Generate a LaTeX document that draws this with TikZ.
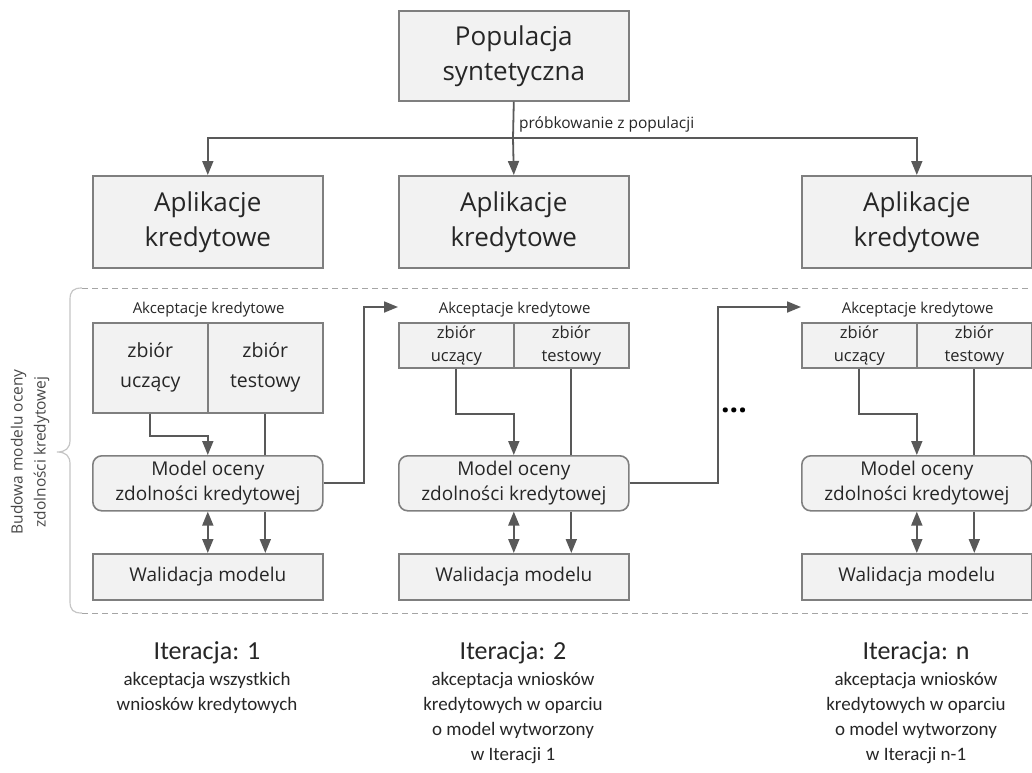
\documentclass[tikz,border=0pt]{standalone}
\usepackage{fontspec}
\setmainfont{Open Sans}
\newfontfamily\calfont{Carlito}
\usetikzlibrary{arrows.meta,positioning,calc}
\definecolor{boxfill}{HTML}{F2F2F2}
\definecolor{boxline}{HTML}{7F7F7F}
\definecolor{arrline}{HTML}{595959}
\definecolor{txt}{HTML}{262626}
\newcommand{\fs}[2]{\fontsize{#1}{#2}\selectfont}

\tikzset{
  box/.style={draw=boxline,fill=boxfill,line width=1.6pt,text=txt,align=center,
    inner sep=0pt,anchor=north west,minimum width=#1},
  box/.default=230pt,
  conn/.style={draw=arrline,line width=1.8pt},
  arr/.style={conn,-{Triangle[length=14pt,width=11pt]}},
  darr/.style={conn,{Triangle[length=14pt,width=11pt]}-{Triangle[length=14pt,width=11pt]}},
  lbl/.style={text=txt,inner sep=0pt},
  iterlbl/.style={text=txt,inner sep=0pt,align=center,font=\calfont\fs{26}{30}},
  desclbl/.style={text=txt,inner sep=0pt,align=center,anchor=north,font=\calfont\fs{19}{25}},
}

\begin{document}
\begin{tikzpicture}[x=1pt,y=-1pt]
  \useasboundingbox (0,0) rectangle (1032,772);
  % gorna czesc: populacja i aplikacje
  \node[box,minimum height=90pt,font=\fs{26}{35}] (pop) at (398,10) {Populacja\\syntetyczna};
  \node[box,minimum height=92pt,font=\fs{26}{35}] (app1) at (92,175) {Aplikacje\\kredytowe};
  \node[box,minimum height=92pt,font=\fs{26}{35}] (app2) at (398,175) {Aplikacje\\kredytowe};
  \node[box,minimum height=92pt,font=\fs{26}{35}] (app3) at (801,175) {Aplikacje\\kredytowe};
  \coordinate (split) at (513,138);
  \draw[conn] (pop.south) -- (split);
  \draw[arr] (split) -| (app1.north);
  \draw[arr] (split) -- (app2.north);
  \draw[arr] (split) -| (app3.north);
  \node[lbl,anchor=west,font=\fs{15.5}{18}] (samp) at (519,124) {próbkowanie z populacji};

  % ramka z klamra
  \draw[draw=boxline!70,line width=1pt,dash pattern=on 6pt off 4pt] (82,288) -- (1032,288);
  \draw[draw=boxline!70,line width=1pt,dash pattern=on 6pt off 4pt] (82,613) -- (1032,613);
  \draw[draw=boxline!45,line width=1.2pt] (82,288) .. controls (73,288) and (70,291) .. (70,300) -- (70,440)
    .. controls (70,448) and (66,452) .. (57,452) .. controls (66,452) and (70,456) .. (70,464)
    -- (70,601) .. controls (70,610) and (73,613) .. (82,613);
  \node[lbl,rotate=90,align=center,text=txt!85,font=\fs{15.5}{23}] (build) at (30,452)
    {Budowa modelu oceny\\zdolności kredytowej};

  % iteracja 1
  \node[box=115pt,minimum height=90pt,font=\fs{19.5}{30}] (u1) at (92,322) {zbiór\\uczący};
  \node[box=115pt,minimum height=90pt,font=\fs{19.5}{30}] (t1) at (207,322) {zbiór\\testowy};
  \node[lbl,above=5pt of u1.north east,font=\fs{15}{18}] (acc1) {Akceptacje kredytowe};
  \node[box,minimum height=55pt,rounded corners=9pt,font=\fs{19}{25}] (m1) at (92,455) {Model oceny\\zdolności kredytowej};
  \node[box,minimum height=46pt,font=\fs{19}{25}] (w1) at (92,553) {Walidacja modelu};
  \draw[arr] (u1.south) -- ++(0,22) -| (m1.north);
  \draw[conn] (t1.south) -- (t1.south |- m1.north);
  \draw[darr] (m1.south) -- (w1.north);
  \draw[arr] (t1.south |- m1.south) -- (t1.south |- w1.north);

  % iteracja 2
  \node[box=115pt,minimum height=45pt,font=\fs{16.5}{23}] (u2) at (398,322) {zbiór\\uczący};
  \node[box=115pt,minimum height=45pt,font=\fs{16.5}{23}] (t2) at (513,322) {zbiór\\testowy};
  \node[lbl,above=5pt of u2.north east,font=\fs{15}{18}] (acc2) {Akceptacje kredytowe};
  \node[box,minimum height=55pt,rounded corners=9pt,font=\fs{19}{25}] (m2) at (398,455) {Model oceny\\zdolności kredytowej};
  \node[box,minimum height=46pt,font=\fs{19}{25}] (w2) at (398,553) {Walidacja modelu};
  \draw[arr] (u2.south) -- ++(0,45) -| (m2.north);
  \draw[conn] (t2.south) -- (t2.south |- m2.north);
  \draw[darr] (m2.south) -- (w2.north);
  \draw[arr] (t2.south |- m2.south) -- (t2.south |- w2.north);

  % iteracja n
  \node[box=115pt,minimum height=45pt,font=\fs{16.5}{23}] (u3) at (801,322) {zbiór\\uczący};
  \node[box=115pt,minimum height=45pt,font=\fs{16.5}{23}] (t3) at (916,322) {zbiór\\testowy};
  \node[lbl,above=5pt of u3.north east,font=\fs{15}{18}] (acc3) {Akceptacje kredytowe};
  \node[box,minimum height=55pt,rounded corners=9pt,font=\fs{19}{25}] (m3) at (801,455) {Model oceny\\zdolności kredytowej};
  \node[box,minimum height=46pt,font=\fs{19}{25}] (w3) at (801,553) {Walidacja modelu};
  \draw[arr] (u3.south) -- ++(0,45) -| (m3.north);
  \draw[conn] (t3.south) -- (t3.south |- m3.north);
  \draw[darr] (m3.south) -- (w3.north);
  \draw[arr] (t3.south |- m3.south) -- (t3.south |- w3.north);

  % przejscia miedzy iteracjami
  \draw[arr] (m1.east) -- ++(40,0) |- ([yshift=15pt]u2.north west);
  \draw[arr] (m2.east) -- ++(88,0) |- ([yshift=15pt]u3.north west);
  \node[inner sep=0pt,font=\bfseries\fs{30}{30}] (dots) at (734,410) {...};

  % opisy iteracji
  \node[iterlbl] (it1) at (207,653) {Iteracja: 1};
  \node[desclbl,below=8pt of it1] (d1) {akceptacja wszystkich\\wniosków kredytowych};
  \node[iterlbl] (it2) at (513,653) {Iteracja: 2};
  \node[desclbl,below=8pt of it2] (d2) {akceptacja wniosków\\kredytowych w oparciu\\o model wytworzony\\w Iteracji 1};
  \node[iterlbl] (it3) at (916,653) {Iteracja: n};
  \node[desclbl,below=8pt of it3] (d3) {akceptacja wniosków\\kredytowych w oparciu\\o model wytworzony\\w Iteracji n-1};
\end{tikzpicture}
\end{document}
